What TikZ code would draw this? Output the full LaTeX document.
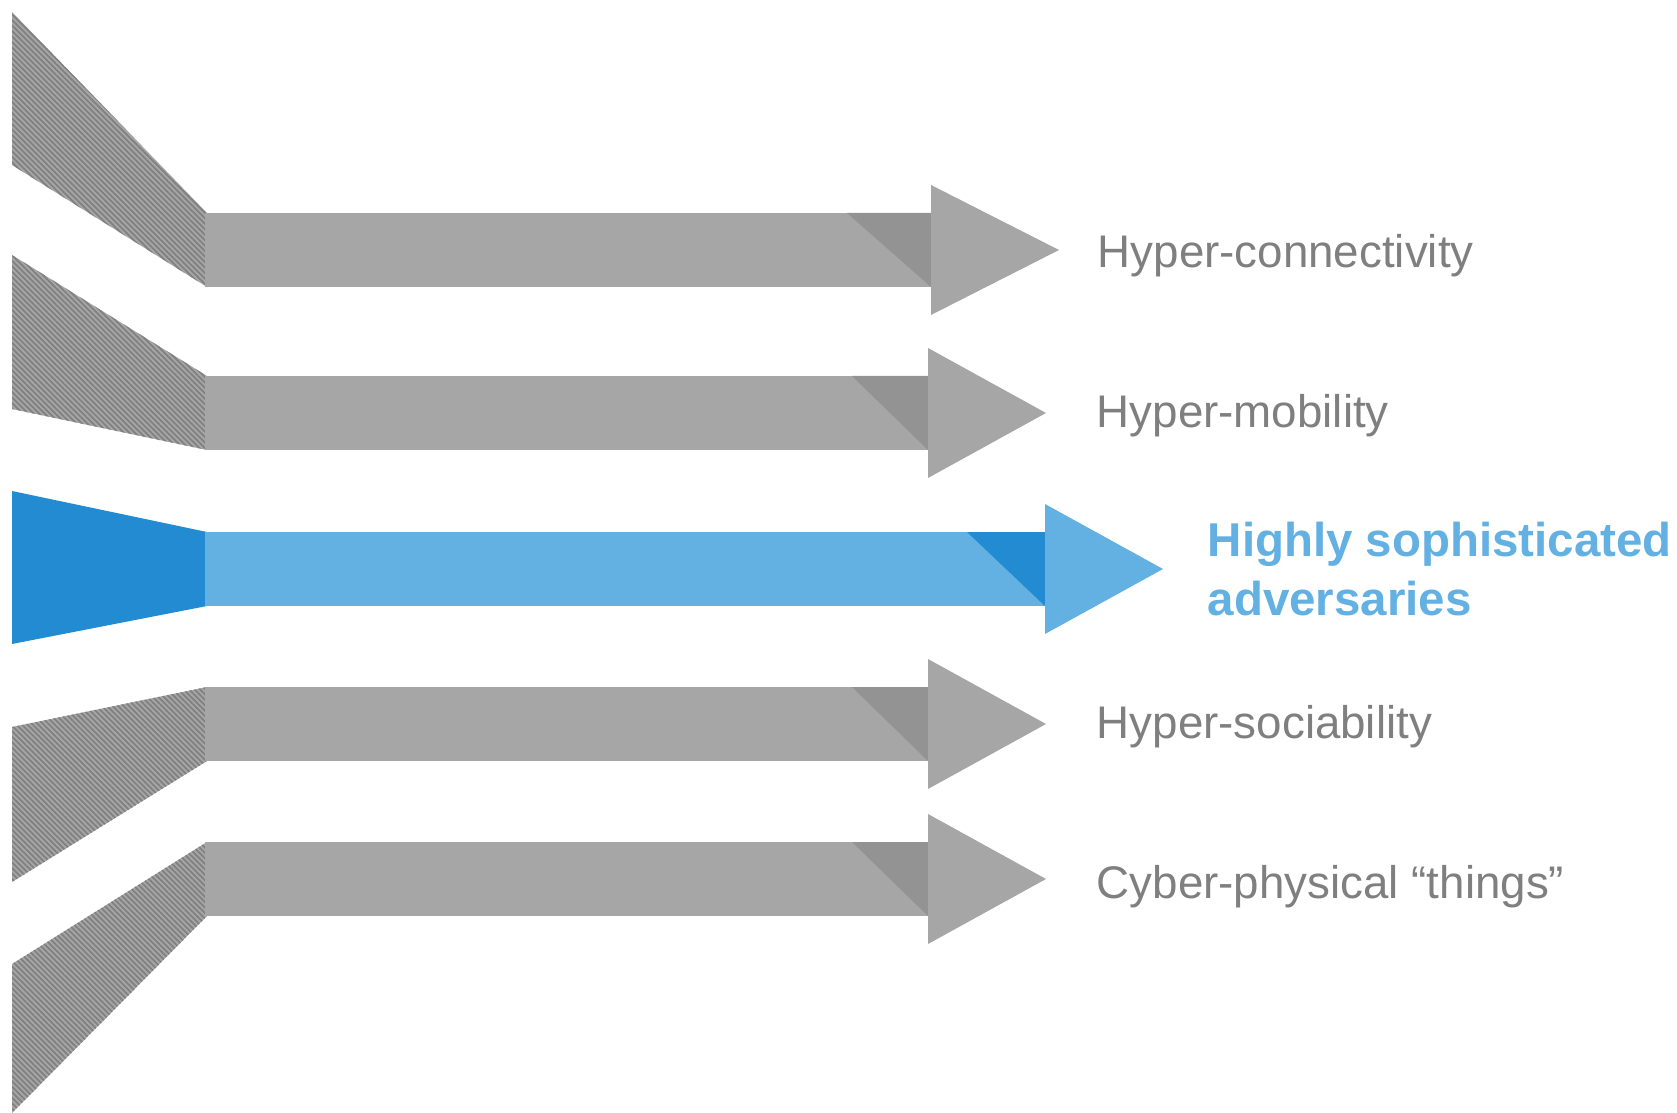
\documentclass[tikz,border=0pt]{standalone}
\usepackage{fontspec}
\usepackage{tikz}
\usetikzlibrary{patterns.meta}
\newfontfamily\arial{Liberation Sans}
\definecolor{bargray}{HTML}{A6A6A6}
\definecolor{shadegray}{HTML}{939393}
\definecolor{hatchgray}{HTML}{808080}
\definecolor{textgray}{HTML}{7F7F7F}
\definecolor{barblue}{HTML}{63B0E3}
\definecolor{shadeblue}{HTML}{238BD2}
% #1,#2 left end of the feed, #3 top of the bar, #4 start of the shade,
% #5 end of the bar, #6 tip of the head, #7 colour set
\newcommand{\prarrow}[7]{
	\fill[feed#7] (12,#1) -- (207,#3) -- (207,#3+74) -- (12,#2) -- cycle;
	\fill[bar#7] (205,#3) rectangle (#5,#3+74);
	\fill[shade#7] (#4,#3) -- (#5,#3) -- (#5,#3+74) -- cycle;
	\fill[bar#7] (#5,#3-28) -- (#6,#3+37) -- (#5,#3+102) -- cycle;
}
\tikzset{
	feedgray/.style={fill=bargray,postaction={pattern={Lines[angle=-45,distance=1.1pt,line width=0.5pt]},pattern color=hatchgray}},
	bargray/.style={fill=bargray},
	shadegray/.style={fill=shadegray},
	feedblue/.style={fill=shadeblue},
	barblue/.style={fill=barblue},
	shadeblue/.style={fill=shadeblue},
	labelgray/.style={anchor=base west,inner sep=0pt,text=textgray,font=\arial\fontsize{13}{15}\selectfont},
	labelblue/.style={anchor=base west,inner sep=0pt,text=barblue,align=left,font=\arial\bfseries\fontsize{13.5}{16.5}\selectfont}
}

\begin{document}
\begin{tikzpicture}[x=0.01cm,y=-0.01cm]
	\useasboundingbox (0,0) rectangle (1677,1113);
	
	\prarrow{12}{165}{213}{847}{931}{1059}{gray}
	\prarrow{255}{409}{376}{852}{928}{1046}{gray}
	\prarrow{491}{644}{532}{967}{1045}{1163}{blue}
	\prarrow{727}{882}{687}{852}{928}{1046}{gray}
	\prarrow{964}{1113}{842}{852}{928}{1046}{gray}
	
	\node[labelgray] (conn) at (1097,268) {Hyper-connectivity};
	\node[labelgray] (mob) at (1096,428) {Hyper-mobility};
	\node[labelblue] (adv) at (1207,615) {Highly sophisticated\\adversaries};
	\node[labelgray] (soc) at (1096,738) {Hyper-sociability};
	\node[labelgray] (things) at (1096,898) {Cyber-physical “things”};
\end{tikzpicture}
\end{document}
